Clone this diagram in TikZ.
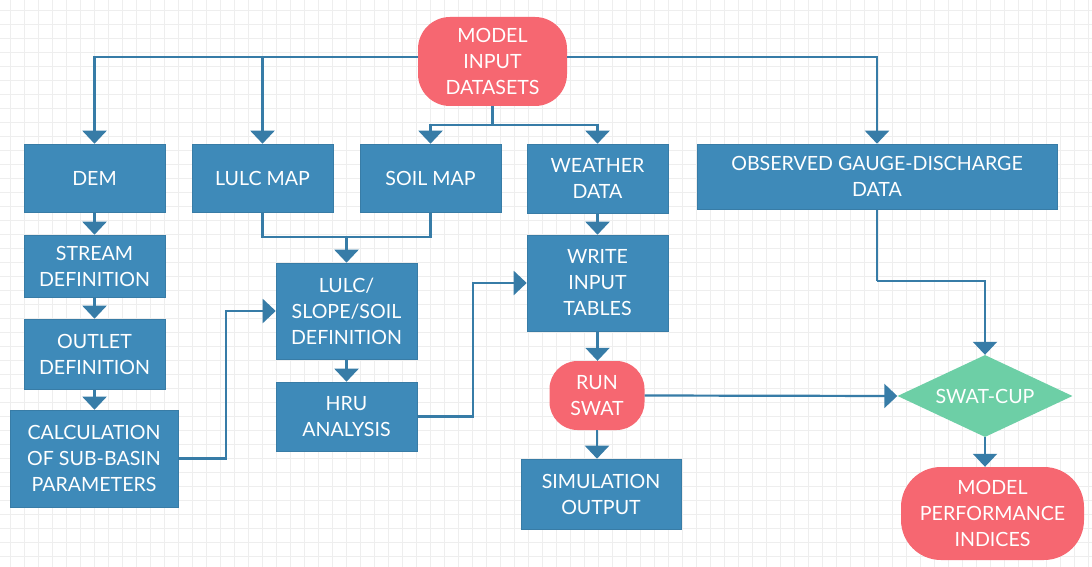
\documentclass[tikz,border=0pt]{standalone}
\usepackage{fontspec}
\setmainfont{Lato}
\usetikzlibrary{shapes.geometric,arrows.meta}
\definecolor{boxblue}{RGB}{62,138,185}
\definecolor{linecol}{RGB}{55,124,167}
\definecolor{pillred}{RGB}{246,103,113}
\definecolor{cupgreen}{RGB}{109,207,166}
\definecolor{gridcol}{RGB}{238,238,238}
\tikzset{
  every node/.style={font=\fontsize{19.6}{26}\selectfont, text=white, align=center, inner sep=0pt},
  bluebox/.style={rectangle, fill=boxblue, draw=boxblue!90!black, line width=0.6pt},
  pill/.style={rectangle, fill=pillred, rounded corners=#1},
  cupbox/.style={diamond, fill=cupgreen, shape aspect=2.1},
  conn/.style={draw=linecol, line width=2.2pt},
  arr/.style={conn, -{Triangle[width=24pt,length=13pt]}},
  gridline/.style={draw=gridcol, line width=0.8pt}
}
\begin{document}
\begin{tikzpicture}[x=1pt,y=-1pt]
\useasboundingbox (0,0) rectangle (1092,567);
\fill[white] (0,0) rectangle (1092,567);
\foreach \i in {0,...,77} \draw[gridline] (10.7+14*\i,0) -- (10.7+14*\i,567);
\foreach \i in {0,...,39} \draw[gridline] (0,10.7+14*\i) -- (1092,10.7+14*\i);

% nodes
\node[pill=32pt, minimum width=149pt, minimum height=89pt] (model) at (492.5,61.5) {MODEL\\INPUT\\DATASETS};
\node[bluebox, minimum width=141pt, minimum height=68pt] (dem) at (94.5,178) {DEM};
\node[bluebox, minimum width=141pt, minimum height=68pt] (lulc) at (262.5,178) {LULC MAP};
\node[bluebox, minimum width=141pt, minimum height=68pt] (soil) at (430.5,178) {SOIL MAP};
\node[bluebox, minimum width=141pt, minimum height=69pt] (weather) at (597.5,178.5) {WEATHER\\DATA};
\node[bluebox, minimum width=360pt, minimum height=65pt] (obs) at (877,176.5) {OBSERVED GAUGE-DISCHARGE\\DATA};
\node[bluebox, minimum width=141pt, minimum height=62pt] (stream) at (94.5,266) {STREAM\\DEFINITION};
\node[bluebox, minimum width=141pt, minimum height=70pt] (outlet) at (94.5,354) {OUTLET\\DEFINITION};
\node[bluebox, minimum width=168pt, minimum height=97pt] (calc) at (94,458.5) {CALCULATION\\OF SUB-BASIN\\PARAMETERS};
\node[bluebox, minimum width=141pt, minimum height=96pt] (lsd) at (346.5,311) {LULC/\\SLOPE/SOIL\\DEFINITION};
\node[bluebox, minimum width=141pt, minimum height=69pt] (hru) at (346.5,416.5) {HRU\\ANALYSIS};
\node[bluebox, minimum width=141pt, minimum height=96pt] (write) at (597.5,283) {WRITE\\INPUT\\TABLES};
\node[pill=28pt, minimum width=95pt, minimum height=69pt] (run) at (597,395.5) {RUN\\SWAT};
\node[bluebox, minimum width=160pt, minimum height=70pt] (sim) at (601,494) {SIMULATION\\OUTPUT};
\node[cupbox, minimum width=175pt, minimum height=82pt] (cup) at (985,396) {SWAT-CUP};
\node[pill=40pt, minimum width=183pt, minimum height=93pt] (perf) at (992.5,513.5) {MODEL\\PERFORMANCE\\INDICES};

% junctions
\coordinate (j1) at (346.5,237);
\coordinate (j2) at (877,281);

% connectors
\draw[arr] ([yshift=4.5pt]model.west) -| (dem.north);
\draw[arr] ([yshift=4.5pt]model.west) -| (lulc.north);
\draw[arr] ([yshift=4.5pt]model.east) -| (obs.north);
\draw[arr] (model.south) -- ++(0,19) -| (soil.north);
\draw[arr] (model.south) -- ++(0,19) -| (weather.north);
\draw[arr] (dem) -- (stream);
\draw[arr] (stream) -- (outlet);
\draw[arr] (outlet.south) -- (outlet.south |- calc.north);
\draw[conn] (lulc.south) |- (j1) -| (soil.south);
\draw[arr] (j1) -- (lsd.north);
\draw[arr] (lsd) -- (hru);
\draw[arr] (calc.east) -- ++(48,0) |- (lsd.west);
\draw[arr] (hru.east) -- ++(55.5,0) |- (write.west);
\draw[arr] (weather) -- (write);
\draw[arr] (write.south) -- (write.south |- run.north);
\draw[arr] (run.south) -- (run.south |- sim.north);
\draw[arr] (run.east) -- (cup.west);
\draw[conn] (obs.south) -- (j2);
\draw[arr] (j2) -| (cup.north);
\draw[arr] (cup) -- (cup.south |- perf.north);
\end{tikzpicture}
\end{document}
